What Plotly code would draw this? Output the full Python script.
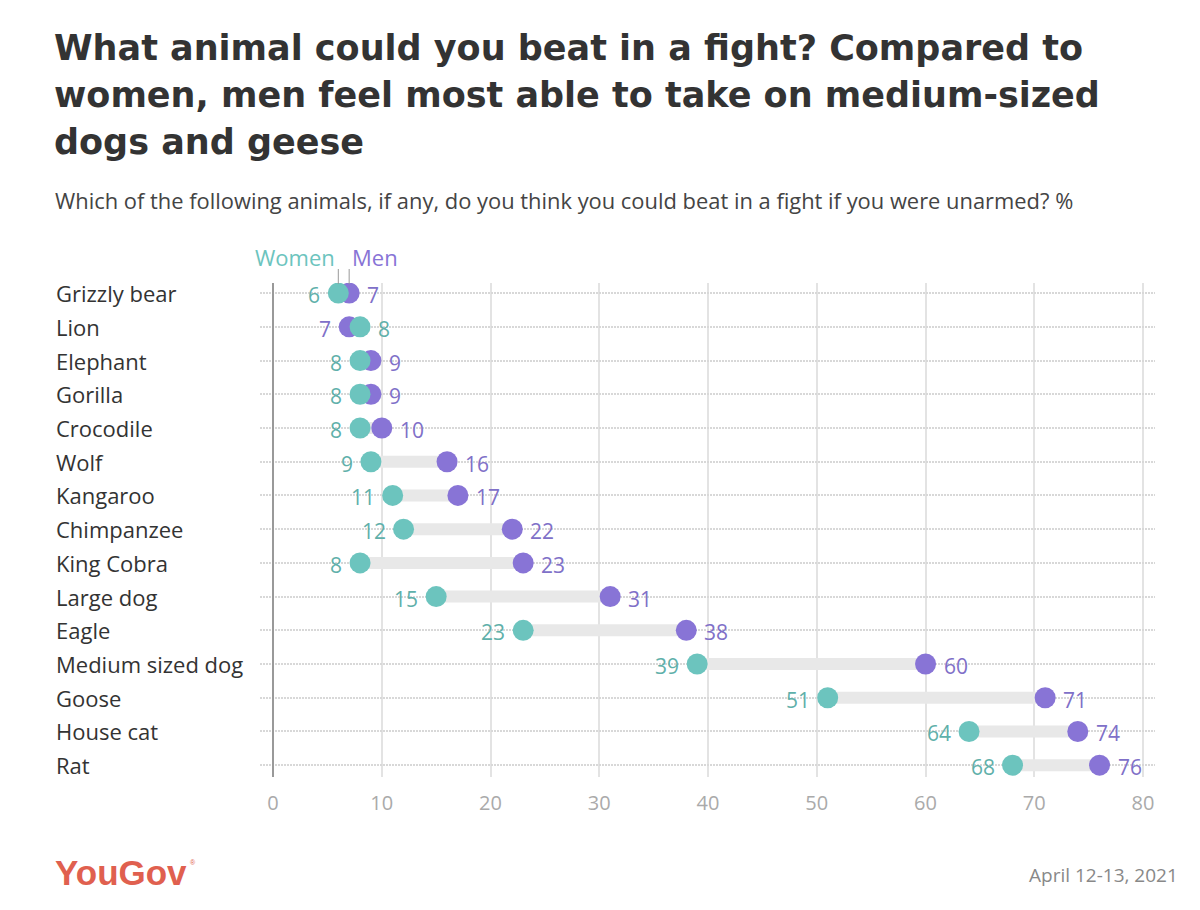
import plotly.graph_objects as go

# ---------------------------------------------------------------------------
## Data
animals = ['Grizzly bear', 'Lion', 'Elephant', 'Gorilla', 'Crocodile', 'Wolf',
           'Kangaroo', 'Chimpanzee', 'King Cobra', 'Large dog', 'Eagle',
           'Medium sized dog', 'Goose', 'House cat', 'Rat']
women = [6, 8, 8, 8, 8, 9, 11, 12, 8, 15, 23, 39, 51, 64, 68]
men = [7, 7, 9, 9, 10, 16, 17, 22, 23, 31, 38, 60, 71, 74, 76]
x_ticks = [0, 10, 20, 30, 40, 50, 60, 70, 80]

title_lines = ['What animal could you beat in a fight? Compared to',
               'women, men feel most able to take on medium-sized',
               'dogs and geese']
subtitle = 'Which of the following animals, if any, do you think you could beat in a fight if you were unarmed? %'

TEAL = '#6cc4be'
PURPLE = '#8874d6'
TEAL_TXT = '#5fb0aa'
PURPLE_TXT = '#8070c8'
FONT = 'Open Sans'

# page body has an 8px margin, so the figure is drawn 8px in from the corner
OFF = 8
W, H = 1200 - 2 * OFF, 910 - 2 * OFF
ML, MR, MT, MB = 260 - OFF, 1200 - 1155 - OFF, 283 - OFF, 910 - 777 - OFF
PW, PH = W - ML - MR, H - MT - MB


def px_x(p):
    # screen pixel -> paper x
    return (p - OFF - ML) / PW


def px_y(p):
    # screen pixel -> paper y
    return (H - MB - (p - OFF)) / PH


# ---------------------------------------------------------------------------
## Traces
cx, cy = [], []
for a, w, m in zip(animals, women, men):
    cx += [w, m, None]
    cy += [a, a, None]

conn = go.Scatter(x=cx, y=cy, mode='lines', line=dict(color='#e8e8e8', width=12),
                  hoverinfo='skip', showlegend=False)
men_tr = go.Scatter(x=men, y=animals, mode='markers', name='Men',
                    marker=dict(color=PURPLE, size=21), showlegend=False)
women_tr = go.Scatter(x=women, y=animals, mode='markers', name='Women',
                      marker=dict(color=TEAL, size=21), showlegend=False)

fig = go.Figure(data=[conn, men_tr, women_tr])

# ---------------------------------------------------------------------------
## Annotations
ann = []
for a, w, m in zip(animals, women, men):
    ann.append(dict(x=px_x(54), xref='paper', y=a, yref='y', text=a,
                    xanchor='left', yanchor='middle', showarrow=False,
                    font=dict(size=22, color='#333333', family=FONT)))
    w_left = w <= m
    ann.append(dict(x=w, xref='x', y=a, yref='y', text=str(w),
                    xanchor='right' if w_left else 'left',
                    xshift=-16 if w_left else 16, yshift=-2,
                    yanchor='middle', showarrow=False,
                    font=dict(size=21, color=TEAL_TXT, family=FONT)))
    ann.append(dict(x=m, xref='x', y=a, yref='y', text=str(m),
                    xanchor='left' if w_left else 'right',
                    xshift=16 if w_left else -16, yshift=-2,
                    yanchor='middle', showarrow=False,
                    font=dict(size=21, color=PURPLE_TXT, family=FONT)))

ann.append(dict(x=women[0], xref='x', y=px_y(257), yref='paper', text='Women',
                xanchor='right', yanchor='middle', xshift=-1, showarrow=False,
                font=dict(size=22, color=TEAL, family=FONT)))
ann.append(dict(x=men[0], xref='x', y=px_y(257), yref='paper', text='Men',
                xanchor='left', yanchor='middle', xshift=1, showarrow=False,
                font=dict(size=22, color=PURPLE, family=FONT)))

for i, line in enumerate(title_lines):
    ann.append(dict(x=px_x(52), xref='paper', y=px_y(48 + 47 * i), yref='paper',
                    text='<b>' + line + '</b>',
                    xanchor='left', yanchor='middle', showarrow=False,
                    font=dict(size=35, color='#333333', family='DejaVu Sans')))
ann.append(dict(x=px_x(53), xref='paper', y=px_y(200), yref='paper',
                text=subtitle, xanchor='left', yanchor='middle', showarrow=False,
                font=dict(size=21.9, color='#444444', family=FONT)))
ann.append(dict(x=px_x(53), xref='paper', y=px_y(872), yref='paper',
                text='<b>YouGov</b>', xanchor='left', yanchor='middle', showarrow=False,
                font=dict(size=35, color='#e0604f', family='Liberation Sans')))
ann.append(dict(x=px_x(188), xref='paper', y=px_y(862), yref='paper',
                text='®', xanchor='left', yanchor='middle', showarrow=False,
                font=dict(size=7, color='#e0604f', family='Liberation Sans')))
ann.append(dict(x=px_x(1180), xref='paper', y=px_y(875), yref='paper',
                text='April 12-13, 2021', xanchor='right', yanchor='middle',
                showarrow=False,
                font=dict(size=19, color='#888888', family=FONT)))

shapes = []
for xv in [women[0], men[0]]:
    shapes.append(dict(type='line', xref='x', yref='paper', x0=xv, x1=xv,
                       y0=px_y(269), y1=px_y(284),
                       line=dict(color='#999999', width=1)))

fig.update_layout(
    width=W, height=H,
    margin=dict(l=ML, r=MR, t=MT, b=MB),
    paper_bgcolor='white', plot_bgcolor='white',
    xaxis=dict(range=[-1.2, 81.1], tickvals=x_ticks, showgrid=True,
               gridcolor='#e3e3e3', gridwidth=1.5, zeroline=True,
               zerolinecolor='#999999', zerolinewidth=1.5, showline=False,
               ticks='', ticklabelstandoff=12,
               tickfont=dict(size=20, color='#aaaaaa', family=FONT)),
    yaxis=dict(categoryorder='array', categoryarray=animals,
               range=[14.35, -0.3], showticklabels=False, showgrid=True,
               gridcolor='#d8d8d8', griddash='1.5px,1.5px', gridwidth=1.5,
               zeroline=False, ticks=''),
    annotations=ann,
    shapes=shapes,
)

fig.write_html('out.html')
